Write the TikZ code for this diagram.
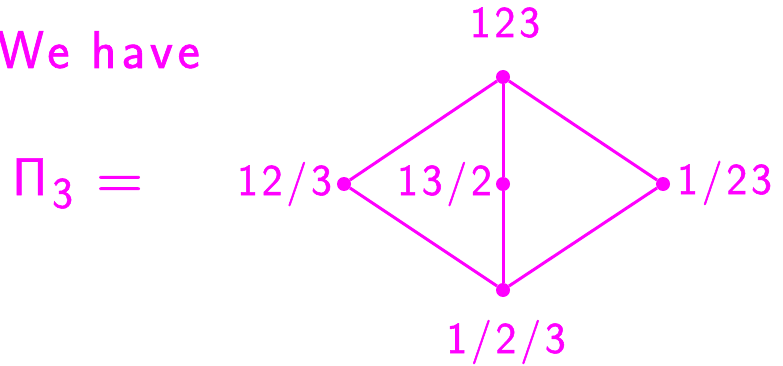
\documentclass[tikz,border=0pt]{standalone}
\usepackage{fontspec}
\newfontfamily\lsans[LetterSpace=9,FakeBold=1.2]{Latin Modern Sans}
\definecolor{mag}{RGB}{255,0,255}
\begin{document}
\begin{tikzpicture}[x=1pt,y=-1pt,
  dot/.style={circle,fill=mag,inner sep=0pt,minimum size=14pt},
  edge/.style={draw=mag,line width=3pt},
  lab/.style={text=mag,inner sep=0pt,font=\lsans\fontsize{44}{50}\selectfont},
  big/.style={text=mag,inner sep=0pt,font=\lsans\fontsize{53}{60}\selectfont}]
\useasboundingbox (0,0) rectangle (783,366);
\node[big,anchor=base east] (wh) at (200,68) {We have};
\node[big,anchor=base west] (pi) at (12,195) {Π};
\node[lab,anchor=base west] (sub) at (52,208) {3};
\node[text=mag,inner sep=0pt,font=\lsans\fontsize{64}{70}\selectfont,anchor=base west] (eq) at (96,199) {=};
\node[dot] (t) at (503,77) {};
\node[dot] (l) at (344,184) {};
\node[dot] (m) at (503,184) {};
\node[dot] (r) at (663,184) {};
\node[dot] (b) at (503,290) {};
\draw[edge] (l) -- (t) -- (r) -- (b) -- (l);
\draw[edge] (t) -- (m) -- (b);
\node[lab,anchor=base] (l123) at (505,37) {123};
\node[lab,anchor=base east] (l12) at (332,195) {12/3};
\node[lab,anchor=base east] (l13) at (492,195) {13/2};
\node[lab,anchor=base west] (l1) at (677,194) {1/23};
\node[lab,anchor=base] (l4) at (506,353) {1/2/3};
\end{tikzpicture}
\end{document}
